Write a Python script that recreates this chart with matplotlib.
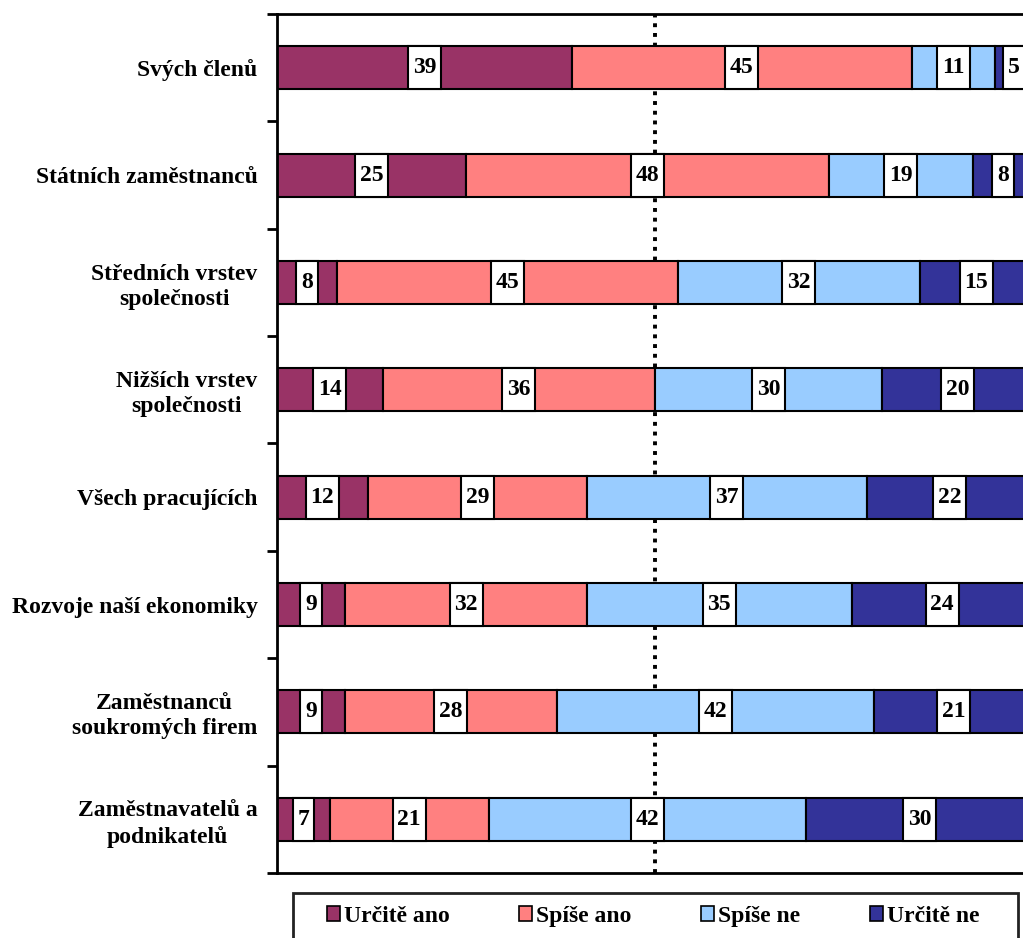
import numpy as np
import matplotlib
matplotlib.use("Agg")
import matplotlib.pyplot as plt
from matplotlib.patches import Rectangle, Patch

plt.rcParams['font.family'] = ['Liberation Serif', 'DejaVu Serif']
plt.rcParams['font.weight'] = 'bold'

# data
kategorie = ["Svých členů", "Státních zaměstnanců", "Středních vrstev\nspolečnosti",
             "Nižších vrstev\nspolečnosti", "Všech pracujících", "Rozvoje naší ekonomiky",
             "Zaměstnanců\nsoukromých firem", "Zaměstnavatelů a\npodnikatelů"]
urcite_ano = [39, 25, 8, 14, 12, 9, 9, 7]
spise_ano = [45, 48, 45, 36, 29, 32, 28, 21]
spise_ne = [11, 19, 32, 30, 37, 35, 42, 42]
urcite_ne = [5, 8, 15, 20, 22, 24, 21, 30]
serie = ["Určitě ano", "Spíše ano", "Spíše ne", "Určitě ne"]
barvy = ["#993366", "#FF8080", "#99CCFF", "#333399"]

W, H = 1023, 938
fig = plt.figure(figsize=(W / 100, H / 100), dpi=100)
ax = fig.add_axes([277 / W, 1 - 873 / H, 756 / W, 859 / H])

y = np.arange(len(kategorie))
hodnoty = [urcite_ano, spise_ano, spise_ne, urcite_ne]
vyska = 0.4
px = 756 / 100.0  # pixels per data unit

ax.axvline(50, color='black', lw=2.8, linestyle=(0, (1, 1.5)), zorder=0)

left = np.zeros(len(kategorie))
for vals, barva in zip(hodnoty, barvy):
    vals = np.array(vals, dtype=float)
    ax.barh(y, vals, left=left, height=vyska, color=barva, edgecolor='black',
            linewidth=1.5, zorder=2)
    for yi, (l, v) in enumerate(zip(left, vals)):
        s = str(int(v))
        w = (len(s) * 11.5 + 10) / px
        cx = l + v / 2
        ax.add_patch(Rectangle((cx - w / 2, yi - vyska / 2), w, vyska,
                               facecolor='white', edgecolor='black', lw=1.5, zorder=3))
        ax.text(cx, yi, s, ha='center', va='center', fontsize=17,
                fontweight='bold', zorder=4)
    left += vals

ax.set_xlim(0, 100)
ax.set_ylim(len(kategorie) - 0.5, -0.5)
ax.set_xticks([])
ax.set_yticks(np.arange(-0.5, len(kategorie)), labels=[])
ax.set_yticks(y, labels=kategorie, minor=True)
ax.tick_params(axis='y', which='major', length=7, width=2, direction='out')
ax.tick_params(axis='y', which='minor', length=0, pad=14, labelsize=17)
for lab in ax.get_yticklabels(minor=True):
    lab.set_multialignment('center')
    lab.set_fontweight('bold')
    lab.set_linespacing(1.25)
for sp in ax.spines.values():
    sp.set_linewidth(2)

# legend frame drawn separately, running off the bottom edge
fig.patches.append(Rectangle((293 / W, 1 - 950 / H), 725 / W, 57 / H,
                             transform=fig.transFigure, facecolor='white',
                             edgecolor='#222222', lw=2, zorder=1))
handles = [Patch(facecolor=c, edgecolor='black', lw=1.2) for c in barvy]
leg = fig.legend(handles, serie, loc='center left', ncol=4,
                 bbox_to_anchor=(327 / W, 1 - 916 / H),
                 prop={'size': 17, 'weight': 'bold'}, frameon=False,
                 handlelength=0.55, handleheight=0.6, handletextpad=0.15,
                 columnspacing=2.97, borderpad=0, borderaxespad=0)
leg.set_zorder(2)

fig.savefig("out.png", dpi=100)
